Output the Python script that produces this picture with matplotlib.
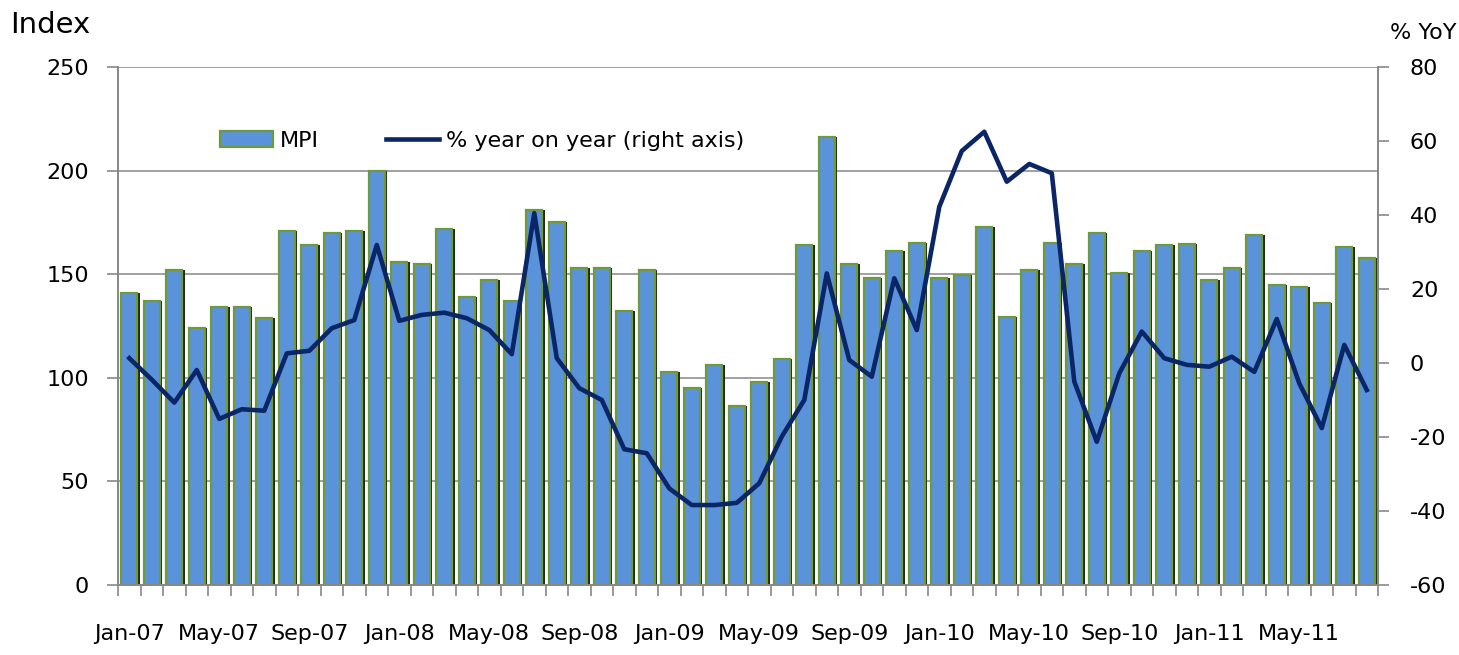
import matplotlib.pyplot as plt
import numpy as np

plt.rcParams['axes.unicode_minus'] = False

# Data: monthly, Jan-07 .. Aug-11
month_names = ["Jan", "Feb", "Mar", "Apr", "May", "Jun", "Jul", "Aug", "Sep", "Oct", "Nov", "Dec"]
months = [f"{m}-{y:02d}" for y in range(7, 12) for m in month_names][:56]
mpi = [141, 137, 152, 124, 134, 134, 129, 171, 164, 170, 171, 200,
       156, 155, 172, 139, 147, 137, 181, 175, 153, 153, 132, 152,
       103, 95, 106, 86.5, 98, 109, 164, 216, 155, 148, 161, 165,
       148, 149.5, 173, 129.5, 152, 165, 155, 170, 150.5, 161, 164, 164.5,
       147, 153, 169, 145, 144, 136, 163, 158]
yoy = [1.3, -4.5, -10.7, -1.9, -15.1, -12.5, -12.9, 2.6, 3.3, 9.4, 11.6, 31.9,
       11.4, 13.0, 13.6, 12.1, 8.9, 2.4, 40.5, 1.3, -6.8, -10.0, -23.3, -24.4,
       -33.9, -38.4, -38.4, -37.8, -32.5, -19.9, -10.0, 24.2, 0.8, -3.7, 22.9, 8.9,
       42.2, 57.3, 62.5, 49.0, 53.8, 51.3, -5.0, -21.3, -2.8, 8.5, 1.3, -0.5,
       -1.0, 1.7, -2.4, 11.9, -5.5, -17.6, 4.9, -7.3]

x = np.arange(len(mpi))
label_idx = list(range(0, len(mpi), 4))[:14]

fig = plt.figure(figsize=(14.59, 6.55), dpi=100)
ax = fig.add_axes([0.0809, 0.1069, 0.8636, 0.7908])
ax2 = ax.twinx()

# bars with a dark shadow on the right for the 3D look
ax.bar(x + 0.12, mpi, width=0.70, color='#1f2b14', zorder=2)
bars = ax.bar(x, mpi, width=0.70, color='#5B93DB', edgecolor='#6f9a3c',
              linewidth=1.6, zorder=3, label='MPI')
line, = ax2.plot(x, yoy, color='#0B2667', lw=3.3, label='% year on year (right axis)')

ax.set_xlim(-0.5, len(mpi) - 0.5)
ax.set_ylim(0, 250)
ax.set_yticks([0, 50, 100, 150, 200, 250])
ax2.set_ylim(-60, 80)
ax2.set_yticks(range(-60, 81, 20))

ax.yaxis.grid(True, color='#999999', lw=1.3, zorder=0)
ax.set_axisbelow(True)
for a in (ax, ax2):
    a.spines['top'].set_visible(False)
    for s in ('left', 'right', 'bottom'):
        a.spines[s].set_color('#888888')
        a.spines[s].set_linewidth(1.3)

# ticks at category boundaries, labels at slot centres
ax.set_xticks(np.arange(-0.5, len(mpi), 1.0))
ax.set_xticklabels([])
ax.tick_params(axis='x', which='major', length=8, color='#888888', width=1.2)
ax.set_xticks(label_idx, minor=True)
ax.set_xticklabels([months[i] for i in label_idx], minor=True)
ax.tick_params(axis='x', which='minor', length=0, pad=28, labelsize=16)
ax.tick_params(axis='y', length=8, color='#888888', width=1.2, pad=13, labelsize=16)
ax2.tick_params(axis='y', length=8, color='#888888', width=1.2, pad=15, labelsize=16)

fig.text(0.007, 0.962, 'Index', fontsize=21, ha='left', va='center')
fig.text(0.998, 0.950, '% YoY', fontsize=16, ha='right', va='center')

fig.legend([bars, line], ['MPI', '% year on year (right axis)'], ncol=2, frameon=False,
           loc='center left', bbox_to_anchor=(0.137, 0.785), fontsize=16,
           handlelength=2.4, columnspacing=3.0, handletextpad=0.3)

fig.savefig('out.png', dpi=100)
